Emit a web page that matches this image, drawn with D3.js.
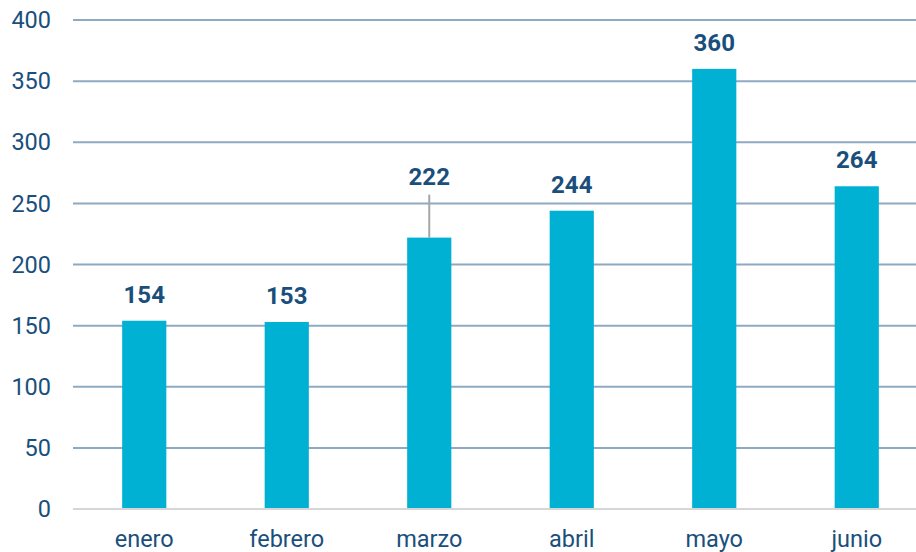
<!DOCTYPE html>
<html>
<head>
<meta charset="utf-8">
<script src="https://cdn.jsdelivr.net/npm/d3@7"></script>
<style>
  body { margin: 0; background: #fff; }
  svg { display: block; font-family: Roboto, "Noto Sans", sans-serif; }
</style>
</head>
<body>
<svg id="chart" width="916" height="552"></svg>
<script>
const meses = ["enero", "febrero", "marzo", "abril", "mayo", "junio"];
const valores = [154, 153, 222, 244, 360, 264];
const yTicks = [0, 50, 100, 150, 200, 250, 300, 350, 400];
// label raised with a leader line (marzo)
const etiquetaElevada = [0, 0, 35, 0, 0, 0];

const width = 916, height = 552;
const margen = { izq: 73, der: 928, arriba: 20, abajo: 509 };

const azul = "#1a4f7c";
const svg = d3.select("#chart");

const x = d3.scaleBand()
    .domain(meses)
    .range([margen.izq, margen.der])
    .paddingInner(0.69)
    .paddingOuter(0.345);

const y = d3.scaleLinear()
    .domain([0, 400])
    .range([margen.abajo, margen.arriba]);

// gridlines
svg.append("g")
    .selectAll("line")
    .data(yTicks.filter(d => d > 0))
    .enter()
    .append("line")
    .attr("x1", margen.izq)
    .attr("x2", width)
    .attr("y1", d => y(d))
    .attr("y2", d => y(d))
    .attr("stroke", "#8eaac2")
    .attr("stroke-width", 2);

// y axis labels
svg.append("g")
    .selectAll("text")
    .data(yTicks)
    .enter()
    .append("text")
    .attr("x", 51)
    .attr("y", d => y(d))
    .attr("dy", "0.35em")
    .attr("text-anchor", "end")
    .attr("fill", azul)
    .attr("font-size", 23.5)
    .text(d => d);

// bars
svg.append("g")
    .selectAll("rect")
    .data(valores)
    .enter()
    .append("rect")
    .attr("x", (d, i) => x(meses[i]))
    .attr("y", d => y(d))
    .attr("width", x.bandwidth())
    .attr("height", d => y(0) - y(d))
    .attr("fill", "#00b1d4");

// baseline
svg.append("line")
    .attr("x1", margen.izq)
    .attr("x2", width)
    .attr("y1", y(0))
    .attr("y2", y(0))
    .attr("stroke", "#d6d6d6")
    .attr("stroke-width", 2);

// leader lines
valores.forEach((v, i) => {
    if (!etiquetaElevada[i]) return;
    const cx = x(meses[i]) + x.bandwidth() / 2;
    svg.append("line")
        .attr("x1", cx)
        .attr("x2", cx)
        .attr("y1", y(v))
        .attr("y2", y(v) - etiquetaElevada[i] - 8)
        .attr("stroke", "#a6a6a6")
        .attr("stroke-width", 2);
});

// value labels
svg.append("g")
    .selectAll("text")
    .data(valores)
    .enter()
    .append("text")
    .attr("x", (d, i) => x(meses[i]) + x.bandwidth() / 2)
    .attr("y", (d, i) => y(d) - 18 - etiquetaElevada[i])
    .attr("text-anchor", "middle")
    .attr("fill", azul)
    .attr("font-size", 24)
    .attr("font-weight", "bold")
    .text(d => d);

// x axis labels
svg.append("g")
    .selectAll("text")
    .data(meses)
    .enter()
    .append("text")
    .attr("x", d => x(d) + x.bandwidth() / 2)
    .attr("y", 547)
    .attr("text-anchor", "middle")
    .attr("fill", azul)
    .attr("font-size", 23.5)
    .text(d => d);
</script>
</body>
</html>
